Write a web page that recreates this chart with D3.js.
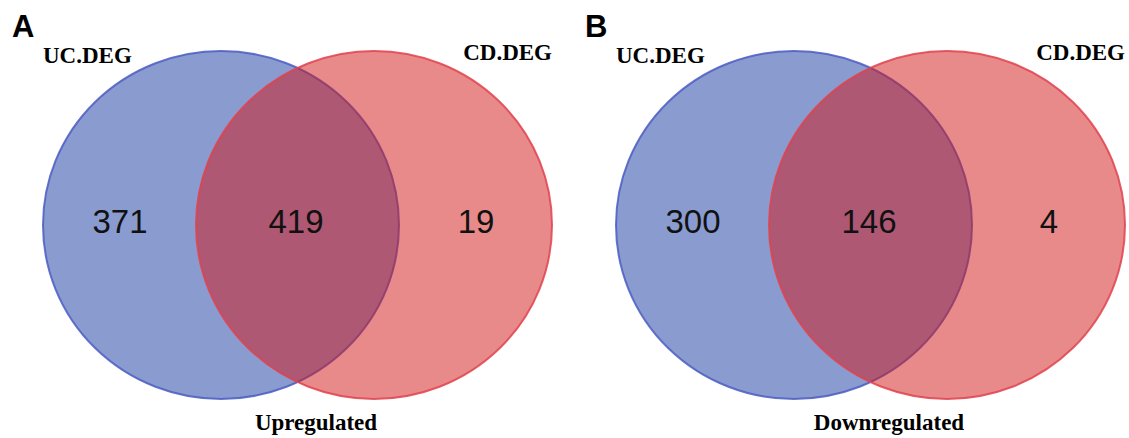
<!DOCTYPE html>
<html>
<head>
<meta charset="utf-8">
<script src="https://cdn.jsdelivr.net/npm/d3@7"></script>
<style>
  body { margin: 0; background: #fff; }
</style>
</head>
<body>
<div id="container"></div>
<script>
/* 1. DATA */
const panels = ["A", "B"];
const conditions = ["Upregulated", "Downregulated"];
const setNames = ["UC.DEG", "CD.DEG"];
const ucOnly = [371, 300];
const both = [419, 146];
const cdOnly = [19, 4];

/* 2. CONSTANTS */
const width = 1129, height = 438;
const setColors = ["rgb(21,55,161)", "rgb(209,21,21)"];
const strokeColors = ["#4a5cc2", "#e0424e"];
const rx = 178, ry = 174, cy = 225;

/* 3. SCALES */
// one band per panel
const panelScale = d3.scaleBand()
  .domain(panels)
  .range([0, 1146]);

// circle centres inside a panel
const circleX = d3.scaleOrdinal()
  .domain(setNames)
  .range([221, 374]);

const svg = d3.select("#container")
  .append("svg")
  .attr("width", width)
  .attr("height", height);

const g = svg.selectAll("g.panel")
  .data(panels.map((p, i) => ({
    panel: p, condition: conditions[i],
    counts: [ucOnly[i], both[i], cdOnly[i]]
  })))
  .join("g")
  .attr("class", "panel")
  .attr("transform", d => `translate(${panelScale(d.panel)},0)`);

// circles
g.selectAll("ellipse")
  .data(setNames)
  .join("ellipse")
  .attr("cx", d => circleX(d))
  .attr("cy", cy)
  .attr("rx", rx)
  .attr("ry", ry)
  .attr("fill", (d, i) => setColors[i])
  .attr("fill-opacity", 0.5)
  .attr("stroke", (d, i) => strokeColors[i])
  .attr("stroke-width", 2)
  .attr("stroke-opacity", 0.85);

// counts
const numX = [120, 296, 476];
g.selectAll("text.count")
  .data(d => d.counts)
  .join("text")
  .attr("class", "count")
  .attr("x", (d, i) => numX[i])
  .attr("y", 233)
  .attr("text-anchor", "middle")
  .attr("font-family", "Liberation Sans, Arial, sans-serif")
  .attr("font-size", "33px")
  .attr("fill", "#111")
  .text(d => d);

// panel letter
g.append("text")
  .attr("x", 12)
  .attr("y", 37)
  .attr("font-family", "Liberation Sans, Arial, sans-serif")
  .attr("font-weight", "bold")
  .attr("font-size", "31px")
  .attr("fill", "#000")
  .text(d => d.panel);

// set labels
g.append("text")
  .attr("x", 43)
  .attr("y", 63)
  .attr("font-family", "Liberation Serif, Times New Roman, serif")
  .attr("font-weight", "bold")
  .attr("font-size", "23px")
  .text(setNames[0]);

g.append("text")
  .attr("x", 552)
  .attr("y", 60)
  .attr("text-anchor", "end")
  .attr("font-family", "Liberation Serif, Times New Roman, serif")
  .attr("font-weight", "bold")
  .attr("font-size", "23px")
  .text(setNames[1]);

// condition label
g.append("text")
  .attr("x", 316)
  .attr("y", 430)
  .attr("text-anchor", "middle")
  .attr("font-family", "Liberation Serif, Times New Roman, serif")
  .attr("font-weight", "bold")
  .attr("font-size", "23px")
  .text(d => d.condition);
</script>
</body>
</html>
